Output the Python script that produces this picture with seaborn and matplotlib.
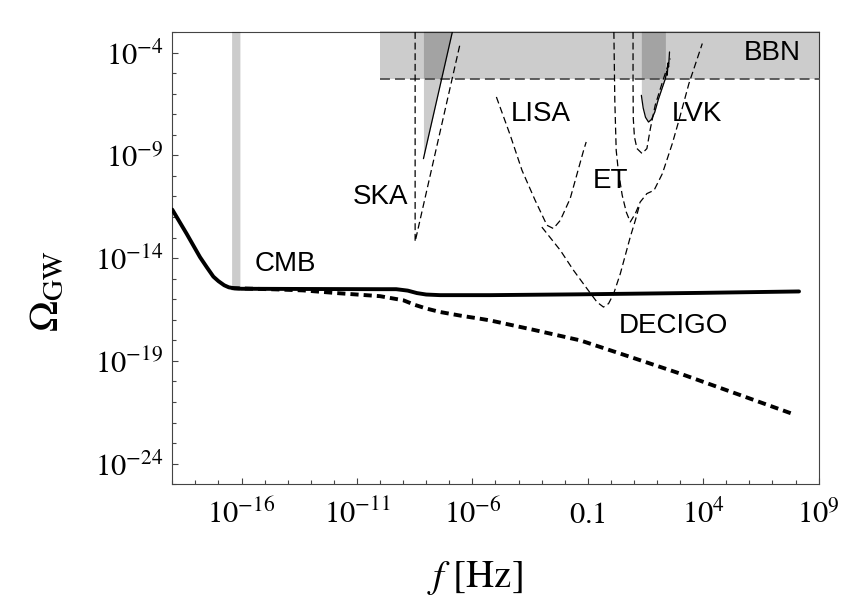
import numpy as np
import pandas as pd
import matplotlib
matplotlib.use("Agg")
import matplotlib.pyplot as plt
import seaborn as sns
from matplotlib.ticker import FixedLocator, FixedFormatter, NullFormatter

# ---------------- data (log10 values) ----------------
main_logf = [-19.0, -18.38, -17.80, -17.5, -17.22, -17.0, -16.75, -16.55, -16.3, -16.0,
             -13.32, -10.0, -9.3, -8.8, -8.4, -8.0, -7.4, -5.23, -1.33, 3.87, 8.15]
solid_logomega = [-11.64, -12.81, -13.95, -14.45, -14.90, -15.12, -15.32, -15.42, -15.47, -15.49,
                  -15.50, -15.51, -15.51, -15.58, -15.70, -15.77, -15.80, -15.80, -15.76, -15.69, -15.62]

dotted_logf = [-16.43, -14.5, -13.32, -11.87, -10.0, -8.99, -8.5, -8.0, -7.4, -6.5, -5.65,
               -5.23, -3.3, -1.33, 0.8, 3.01, 5.5, 7.93]
dotted_logomega = [-15.46, -15.52, -15.57, -15.70, -15.85, -16.05, -16.27, -16.45, -16.62,
                   -16.80, -16.95, -17.03, -17.5, -18.0, -18.79, -19.62, -20.62, -21.6]

ska_logf = [-8.48, -8.48, -6.53]
ska_logomega = [-3.0, -13.2, -3.56]

lisa_logf = [-4.96, -4.36, -3.85, -3.28, -2.77, -2.49, -2.19, -1.76, -1.18, -1.07]
lisa_logomega = [-6.16, -8.02, -9.73, -11.19, -12.40, -12.56, -12.16, -11.09, -8.75, -8.35]

decigo_logf = [-2.99, -2.19, -1.62, -1.11, -0.60, -0.32, -0.10, 0.12, 0.41, 0.84, 1.06, 1.22]
decigo_logomega = [-12.49, -13.62, -14.59, -15.37, -16.14, -16.38, -16.21, -15.73, -14.75,
                   -12.97, -12.16, -11.5]

et_logf = [0.13, 0.17, 0.23, 0.32, 0.49, 0.67, 0.84, 1.06, 1.27, 1.56, 1.87, 2.23, 2.66,
           2.95, 3.38, 3.96]
et_logomega = [-3.0, -6.32, -8.75, -9.73, -10.94, -11.77, -12.24, -11.83, -11.27, -10.86,
               -10.70, -9.89, -8.43, -7.29, -5.51, -3.56]

lvk_design_logf = [0.96, 0.96, 0.97, 1.02, 1.13, 1.35, 1.56, 1.71, 1.92, 2.28, 2.57]
lvk_design_logomega = [-3.0, -5.5, -7.2, -8.1, -8.67, -8.91, -8.67, -7.70, -6.56, -5.27, -4.29]

lvk_o3_logf = [1.32, 1.40, 1.50, 1.63, 1.76, 1.90, 2.05, 2.20, 2.36, 2.42, 2.44, 2.48, 2.50, 2.54]
lvk_o3_logomega = [-6.08, -6.70, -7.15, -7.38, -7.25, -6.90, -6.30, -5.80, -5.27, -4.90, -5.10,
                   -4.50, -4.70, -3.97]

pta_logf = [-8.12, -6.86]
pta_logomega = [-9.16, -2.96]

bbn_logf = [-10.0, 9.06]
bbn_logomega = -5.3
cmb_logf = [-16.43, -16.07]
cmb_logomega = -15.45

labels = ["CMB", "SKA", "LISA", "ET", "LVK", "BBN", "DECIGO"]
label_logf = [-14.08, -10.0, -3.02, 0.0, 3.71, 7.0, 2.70]
label_logomega = [-14.27, -11.03, -6.97, -10.26, -6.97, -4.02, -17.32]

xmajor = [-16, -11, -6, -1, 4, 9]
xmajor_labels = [r"$10^{-16}$", r"$10^{-11}$", r"$10^{-6}$", r"$0.1$", r"$10^{4}$", r"$10^{9}$"]
ymajor = [-24, -19, -14, -9, -4]
ymajor_labels = [r"$10^{-24}$", r"$10^{-19}$", r"$10^{-14}$", r"$10^{-9}$", r"$10^{-4}$"]

# ---------------- style ----------------
sns.set_style("ticks")
plt.rcParams["mathtext.fontset"] = "stix"
plt.rcParams["font.family"] = ["Liberation Sans", "DejaVu Sans"]
plt.rcParams["text.color"] = "black"
plt.rcParams["xtick.labelcolor"] = "black"
plt.rcParams["ytick.labelcolor"] = "black"

fig = plt.figure(figsize=(8.64, 6.12), dpi=100)
ax = fig.add_axes([0.1994, 0.2087, 0.7481, 0.739])
ax.set_xscale("log")
ax.set_yscale("log")
ax.set_xlim(1e-19, 1e9)
ax.set_ylim(1e-25, 1e-3)

def P(v):
    return 10.0 ** np.asarray(v, dtype=float)

TOP = 10 ** -2.97
shade = dict(color="black", alpha=0.2, linewidth=0, zorder=3, clip_on=False)

# BBN band
ax.fill_between(P(bbn_logf), P([bbn_logomega] * 2), TOP, **shade)
# CMB band
cmb_low = np.interp(cmb_logf, main_logf, solid_logomega)
ax.fill_between(P(cmb_logf), P(cmb_low), TOP, **shade)
# PTA region
ax.fill_between(P(pta_logf), P(pta_logomega), TOP, **shade)
# LVK O3 region
o3_x = [v for v in lvk_o3_logf if v <= 2.38]
o3_y = lvk_o3_logomega[:len(o3_x)]
ax.fill_between(P(o3_x), P(o3_y), TOP, **shade)

# BBN dashed edge
bbn_df = pd.DataFrame({"f": P(bbn_logf), "omega": P([bbn_logomega] * 2)})
sns.lineplot(data=bbn_df, x="f", y="omega", ax=ax, sort=False, estimator=None,
             color="#505050", lw=1.3, linestyle=(0, (5.5, 2.8)), zorder=4, clip_on=False)

# sensitivity curves (thin dashed)
curves = {
    "SKA": (ska_logf, ska_logomega),
    "LISA": (lisa_logf, lisa_logomega),
    "DECIGO": (decigo_logf, decigo_logomega),
    "ET": (et_logf, et_logomega),
    "LVK": (lvk_design_logf, lvk_design_logomega),
}
rows = []
for name, (lf, lo) in curves.items():
    for a, b in zip(lf, lo):
        rows.append((name, 10.0 ** a, 10.0 ** b))
sens = pd.DataFrame(rows, columns=["curve", "f", "omega"])
for name in curves:
    sns.lineplot(data=sens[sens.curve == name], x="f", y="omega", ax=ax, sort=False,
                 estimator=None, color="black", lw=0.9, linestyle=(0, (5.5, 3.0)), zorder=4)

# thin solid curves (PTA and LVK O3)
pta_df = pd.DataFrame({"f": P(pta_logf), "omega": P(pta_logomega)})
sns.lineplot(data=pta_df, x="f", y="omega", ax=ax, sort=False, estimator=None,
             color="black", lw=0.9, zorder=4)
o3_df = pd.DataFrame({"f": P(lvk_o3_logf), "omega": P(lvk_o3_logomega)})
sns.lineplot(data=o3_df, x="f", y="omega", ax=ax, sort=False, estimator=None,
             color="black", lw=0.9, zorder=4)

# main spectra
solid_df = pd.DataFrame({"f": P(main_logf), "omega": P(solid_logomega)})
sns.lineplot(data=solid_df, x="f", y="omega", ax=ax, sort=False, estimator=None,
             color="black", lw=2.8, zorder=5, solid_joinstyle="round")
dotted_df = pd.DataFrame({"f": P(dotted_logf), "omega": P(dotted_logomega)})
sns.lineplot(data=dotted_df, x="f", y="omega", ax=ax, sort=False, estimator=None,
             color="black", lw=2.8, linestyle=(0, (2.1, 1.3)), zorder=5,
             dash_capstyle="butt")

# labels
for t, lx, ly in zip(labels, label_logf, label_logomega):
    ax.text(10 ** lx, 10 ** ly, t, ha="center", va="center", fontsize=20, color="black",
            family=["Liberation Sans", "DejaVu Sans"], zorder=6)

# ticks
ax.xaxis.set_major_locator(FixedLocator(P(xmajor)))
ax.xaxis.set_major_formatter(FixedFormatter(xmajor_labels))
ax.xaxis.set_minor_locator(FixedLocator(P([v for v in range(-19, 10) if v not in xmajor])))
ax.xaxis.set_minor_formatter(NullFormatter())
ax.yaxis.set_major_locator(FixedLocator(P(ymajor)))
ax.yaxis.set_major_formatter(FixedFormatter(ymajor_labels))
ax.yaxis.set_minor_locator(FixedLocator(P([v for v in range(-25, -2) if v not in ymajor])))
ax.yaxis.set_minor_formatter(NullFormatter())

ax.tick_params(which="both", direction="in", color="#444444", width=0.8,
               labelsize=22, labelcolor="black", top=False, right=False)
ax.tick_params(which="major", length=4.5)
ax.tick_params(which="minor", length=3.0)
ax.tick_params(axis="y", pad=6.5)
ax.tick_params(axis="x", pad=28)
for lab in ax.get_xticklabels():
    lab.set_va("baseline")

for s in ax.spines.values():
    s.set_color("#444444")
    s.set_linewidth(0.8)

ax.set_xlabel("")
ax.set_ylabel("")
fig.text(47 / 864, 1 - 291 / 612, r"$\Omega_{\mathrm{GW}}$", rotation=90,
         ha="center", va="center", fontsize=30, color="black")
fig.text(475 / 864, 1 - 578 / 612, r"$f\ [\mathrm{Hz}]$", ha="center", va="center",
         fontsize=28, color="black")

fig.savefig("out.png", dpi=100)
